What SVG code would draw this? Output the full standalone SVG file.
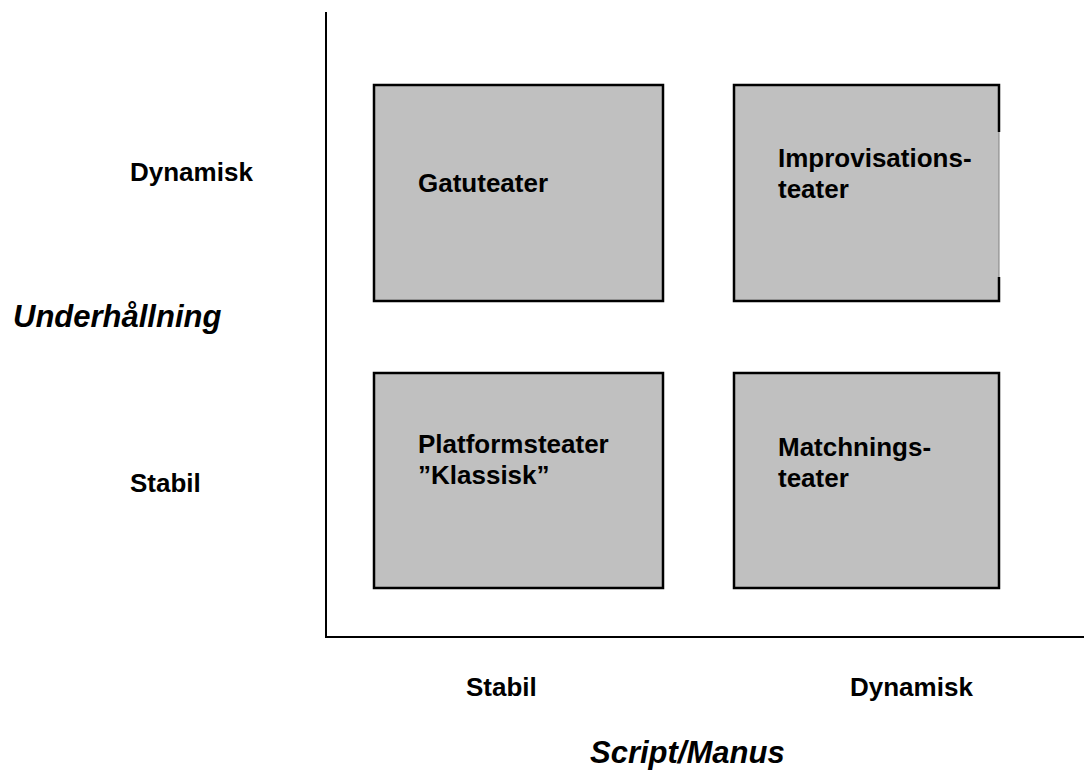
<svg xmlns="http://www.w3.org/2000/svg" width="1084" height="776" viewBox="0 0 1084 776">
<style>
.box{fill:#c0c0c0;stroke:#000;stroke-width:2.5}
.t{font-family:"Liberation Sans",Arial,sans-serif;font-weight:bold;font-size:26px;fill:#000}
.ti{font-family:"Liberation Sans",Arial,sans-serif;font-weight:bold;font-style:italic;font-size:31px;fill:#000}
.ax{stroke:#000;stroke-width:2;fill:none}
</style>
<rect width="1084" height="776" fill="#fff"/>
<g id="axes">
<path class="ax" d="M326 12 V637 H1084"/>
</g>
<g id="labels">
<text class="t" x="130" y="181">Dynamisk</text>
<text class="ti" x="13" y="327">Underhållning</text>
<text class="t" x="130" y="492">Stabil</text>
<text class="t" x="466" y="696">Stabil</text>
<text class="t" x="850" y="696">Dynamisk</text>
<text class="ti" x="590" y="763">Script/Manus</text>
</g>
<g id="gatuteater">
<rect class="box" x="374" y="85" width="289" height="216"/>
<text class="t" x="418" y="192">Gatuteater</text>
</g>
<g id="improvisationsteater">
<rect x="734" y="85" width="265" height="216" fill="#c0c0c0"/>
<path d="M999 132 V277" stroke="#808080" stroke-width="1" fill="none"/>
<path d="M999 132 V85 H734 V301 H999 V277" stroke="#000" stroke-width="2.5" fill="none"/>
<text class="t" x="778" y="167">Improvisations-</text>
<text class="t" x="778" y="198">teater</text>
</g>
<g id="platformsteater">
<rect class="box" x="374" y="373" width="289" height="215"/>
<text class="t" x="418" y="453">Platformsteater</text>
<text class="t" x="418" y="484">”Klassisk”</text>
</g>
<g id="matchningsteater">
<rect class="box" x="734" y="373" width="265" height="215"/>
<text class="t" x="778" y="456">Matchnings-</text>
<text class="t" x="778" y="487">teater</text>
</g>
</svg>
